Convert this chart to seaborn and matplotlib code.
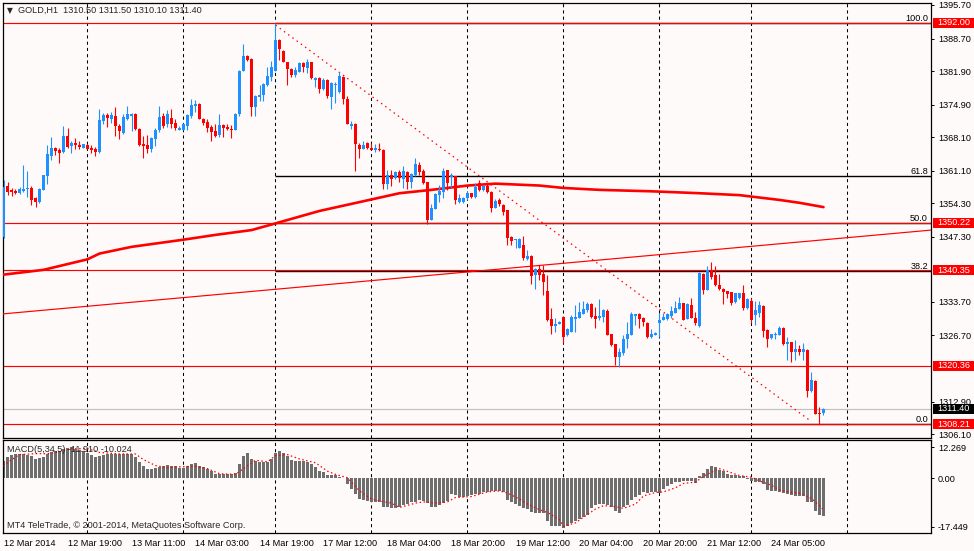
import numpy as np
import pandas as pd
import seaborn as sns
import matplotlib.pyplot as plt
from matplotlib.patches import Rectangle

sns.set_style("white")
plt.rcParams['font.family'] = ['Liberation Sans', 'DejaVu Sans']

BG = "#FFFAFA"
BULL = "#1E90FF"
BEAR = "#FF0000"
RED = "#FF0000"
HIST = "#6E6E6E"
FS = 6.6

# hourly GOLD candles, bar 0 = 12 Mar 2014 03:00
opens = [
    1347.3, 1357.9, 1357.1, 1356.9, 1356.5, 1356.9, 1357.3, 1357.5, 1355.3, 1354.6,
    1357.1, 1359.9, 1364.2, 1365.9, 1365.4, 1365.1, 1368.4, 1366.3, 1366.9, 1366.5,
    1365.9, 1366.5, 1365.9, 1365.6, 1365.1, 1371.5, 1372.7, 1372.0, 1372.5, 1370.5,
    1369.0, 1372.0, 1372.5, 1372.9, 1369.8, 1366.7, 1366.5, 1365.6, 1367.7, 1369.6,
    1372.6, 1370.8, 1372.2, 1371.0, 1369.7, 1369.7, 1370.5, 1372.6, 1374.6, 1375.0,
    1372.0, 1371.3, 1370.2, 1369.3, 1368.6, 1370.6, 1370.3, 1369.9, 1369.6, 1372.9,
    1382.0, 1385.1, 1384.5, 1374.3, 1376.5, 1376.9, 1379.0, 1380.7, 1382.0, 1388.4,
    1386.1, 1383.9, 1382.4, 1381.1, 1381.8, 1383.5, 1382.6, 1383.7, 1380.1, 1380.4,
    1378.1, 1380.0, 1376.4, 1378.9, 1377.6, 1380.7, 1376.0, 1370.4, 1370.9, 1366.5,
    1365.6, 1366.9, 1365.9, 1365.4, 1365.6, 1365.4, 1358.3, 1360.3, 1359.5, 1360.9,
    1359.4, 1360.9, 1358.7, 1360.1, 1362.3, 1361.0, 1358.8, 1350.8, 1353.1, 1356.0,
    1356.7, 1361.2, 1359.7, 1359.9, 1354.5, 1354.5, 1355.3, 1356.4, 1355.7, 1358.5,
    1357.1, 1358.0, 1356.7, 1353.4, 1355.0, 1354.0, 1352.9, 1347.3, 1346.6, 1345.0,
    1345.6, 1342.7, 1343.2, 1339.3, 1340.6, 1339.5, 1336.0, 1330.1, 1328.7, 1329.1,
    1330.5, 1326.7, 1327.5, 1330.1, 1330.4, 1331.2, 1332.0, 1333.2, 1330.8, 1330.4,
    1330.5, 1331.9, 1327.0, 1324.9, 1322.3, 1323.0, 1325.9, 1326.8, 1330.8, 1331.1,
    1330.4, 1329.4, 1326.4, 1326.8, 1329.4, 1329.9, 1330.1, 1330.8, 1331.3, 1332.2,
    1333.4, 1330.1, 1333.1, 1330.4, 1328.7, 1339.5, 1336.2, 1340.4, 1339.3, 1337.2,
    1336.4, 1336.0, 1335.7, 1333.6, 1334.6, 1335.5, 1332.4, 1333.8, 1331.0, 1331.3,
    1332.9, 1327.8, 1326.1, 1326.7, 1326.8, 1328.2, 1324.9, 1325.3, 1323.2, 1323.9,
    1323.3, 1323.7, 1315.0, 1317.2, 1310.6, 1310.5]
highs = [
    1359.2, 1358.7, 1357.4, 1357.3, 1357.6, 1362.3, 1361.0, 1357.9, 1355.7, 1357.4,
    1360.2, 1366.5, 1368.2, 1366.1, 1365.8, 1370.4, 1370.1, 1367.2, 1368.0, 1367.2,
    1366.7, 1366.6, 1366.5, 1366.1, 1374.0, 1373.2, 1373.1, 1373.3, 1374.3, 1370.8,
    1372.9, 1374.6, 1373.2, 1373.1, 1370.1, 1368.4, 1368.6, 1368.2, 1370.0, 1374.6,
    1373.1, 1373.7, 1374.0, 1372.0, 1370.5, 1371.1, 1373.0, 1376.1, 1375.9, 1375.2,
    1372.2, 1371.8, 1370.6, 1370.9, 1372.9, 1370.8, 1370.8, 1370.6, 1373.1, 1382.1,
    1387.6, 1385.3, 1384.7, 1376.9, 1379.0, 1379.5, 1382.8, 1384.1, 1392.0, 1388.6,
    1386.3, 1383.9, 1382.6, 1382.8, 1383.7, 1383.9, 1384.4, 1383.9, 1380.7, 1380.6,
    1380.4, 1380.2, 1379.7, 1379.7, 1381.8, 1380.9, 1376.7, 1371.5, 1371.0, 1366.8,
    1367.4, 1367.1, 1366.9, 1366.7, 1366.8, 1365.6, 1361.3, 1361.3, 1361.1, 1361.3,
    1362.1, 1361.1, 1360.7, 1363.7, 1363.0, 1361.5, 1358.8, 1354.1, 1356.4, 1358.1,
    1361.6, 1361.2, 1360.6, 1360.0, 1356.2, 1355.6, 1356.8, 1356.4, 1358.5, 1359.2,
    1358.1, 1358.3, 1356.9, 1355.1, 1355.3, 1354.1, 1353.0, 1347.4, 1346.8, 1347.0,
    1347.5, 1344.5, 1343.5, 1340.7, 1341.5, 1341.4, 1339.3, 1332.4, 1330.4, 1329.8,
    1330.6, 1328.3, 1331.0, 1333.1, 1333.6, 1333.8, 1333.6, 1333.4, 1332.7, 1334.3,
    1332.3, 1332.2, 1327.1, 1325.0, 1324.0, 1326.8, 1329.6, 1331.7, 1331.2, 1331.3,
    1330.6, 1329.6, 1328.0, 1327.4, 1331.3, 1331.3, 1331.3, 1332.9, 1333.8, 1334.8,
    1333.5, 1333.4, 1334.5, 1331.5, 1339.9, 1339.7, 1341.1, 1342.0, 1341.1, 1339.5,
    1336.7, 1336.0, 1335.8, 1335.6, 1335.6, 1337.2, 1334.6, 1334.5, 1333.8, 1333.8,
    1333.1, 1328.0, 1327.1, 1327.5, 1328.7, 1328.5, 1326.4, 1325.4, 1325.7, 1324.7,
    1325.1, 1323.9, 1319.1, 1317.4, 1311.8, 1311.5]
lows = [
    1347.0, 1356.0, 1355.9, 1356.2, 1356.2, 1356.7, 1355.7, 1354.0, 1353.6, 1354.3,
    1357.0, 1358.3, 1363.3, 1364.4, 1362.8, 1364.7, 1365.8, 1364.9, 1365.6, 1365.6,
    1365.8, 1365.6, 1364.7, 1364.2, 1364.7, 1370.9, 1370.3, 1371.0, 1368.4, 1367.7,
    1368.8, 1371.7, 1369.3, 1369.6, 1366.3, 1363.8, 1364.7, 1365.1, 1366.3, 1369.1,
    1370.0, 1370.3, 1370.1, 1369.7, 1369.5, 1369.6, 1369.6, 1372.2, 1373.4, 1371.8,
    1370.6, 1369.1, 1367.4, 1368.1, 1368.1, 1368.1, 1369.6, 1367.9, 1369.6, 1372.6,
    1382.0, 1384.1, 1372.5, 1372.5, 1375.7, 1375.7, 1378.8, 1379.9, 1382.0, 1384.2,
    1383.9, 1379.0, 1380.7, 1380.6, 1381.8, 1381.8, 1381.6, 1380.2, 1378.6, 1377.4,
    1377.9, 1376.2, 1374.0, 1375.2, 1377.3, 1375.0, 1370.9, 1369.8, 1361.1, 1363.8,
    1365.6, 1365.6, 1365.4, 1365.1, 1365.3, 1357.2, 1357.3, 1358.0, 1359.3, 1358.7,
    1357.4, 1357.3, 1357.4, 1359.9, 1360.2, 1358.3, 1349.9, 1350.8, 1353.1, 1354.6,
    1355.3, 1357.1, 1357.4, 1354.1, 1354.3, 1354.3, 1355.0, 1355.5, 1355.5, 1356.9,
    1356.9, 1356.4, 1352.5, 1353.3, 1353.7, 1351.9, 1345.6, 1345.6, 1344.9, 1344.9,
    1342.5, 1342.5, 1337.4, 1336.5, 1338.3, 1335.2, 1329.7, 1327.1, 1327.5, 1329.0,
    1325.1, 1326.5, 1327.5, 1327.5, 1330.3, 1331.1, 1331.7, 1330.3, 1328.3, 1329.9,
    1329.6, 1326.7, 1324.4, 1320.5, 1320.2, 1322.6, 1324.0, 1326.7, 1328.9, 1328.2,
    1328.7, 1326.1, 1326.2, 1326.7, 1326.4, 1329.9, 1329.9, 1330.3, 1331.3, 1332.2,
    1329.9, 1330.1, 1330.3, 1328.9, 1328.5, 1335.3, 1336.1, 1338.5, 1337.1, 1336.2,
    1333.2, 1334.5, 1333.1, 1333.4, 1334.4, 1332.0, 1332.2, 1329.2, 1328.9, 1330.6,
    1326.4, 1324.2, 1326.0, 1326.0, 1326.7, 1324.7, 1321.6, 1321.1, 1321.6, 1322.6,
    1321.6, 1313.9, 1314.8, 1310.3, 1308.21, 1310.1]
closes = [
    1357.8, 1356.7, 1356.7, 1356.5, 1357.3, 1357.3, 1357.5, 1355.0, 1354.6, 1357.3,
    1360.1, 1364.6, 1365.9, 1365.3, 1364.9, 1368.4, 1366.1, 1366.9, 1366.5, 1366.1,
    1366.6, 1365.7, 1365.5, 1365.1, 1371.7, 1372.7, 1372.2, 1372.7, 1370.5, 1369.3,
    1372.3, 1372.9, 1372.9, 1369.8, 1366.5, 1366.3, 1365.6, 1368.0, 1369.7, 1372.4,
    1370.4, 1372.9, 1370.9, 1370.0, 1370.1, 1370.8, 1372.7, 1374.8, 1375.0, 1372.0,
    1371.1, 1370.1, 1369.1, 1368.4, 1370.6, 1370.0, 1369.9, 1369.6, 1372.9, 1382.0,
    1385.1, 1384.2, 1374.3, 1376.8, 1376.9, 1379.2, 1380.8, 1382.7, 1388.4, 1386.5,
    1383.9, 1382.3, 1381.1, 1382.1, 1383.5, 1382.8, 1383.7, 1380.4, 1380.5, 1378.1,
    1380.0, 1376.8, 1379.5, 1379.3, 1380.9, 1376.0, 1370.9, 1370.9, 1366.6, 1365.6,
    1366.5, 1365.9, 1365.4, 1365.8, 1365.4, 1358.3, 1360.2, 1359.4, 1360.9, 1359.5,
    1361.0, 1358.8, 1360.4, 1362.6, 1360.9, 1358.5, 1350.8, 1353.4, 1356.2, 1356.9,
    1361.0, 1358.5, 1360.3, 1355.0, 1355.3, 1355.3, 1356.4, 1355.7, 1357.8, 1357.1,
    1358.0, 1356.6, 1353.4, 1354.8, 1354.2, 1352.5, 1347.1, 1346.4, 1346.8, 1346.8,
    1342.8, 1343.2, 1339.2, 1340.5, 1339.3, 1337.9, 1329.9, 1328.7, 1329.1, 1329.5,
    1326.4, 1328.0, 1330.6, 1330.6, 1331.5, 1332.2, 1333.2, 1330.6, 1330.1, 1330.8,
    1332.1, 1326.8, 1324.7, 1322.3, 1323.2, 1325.9, 1327.1, 1331.1, 1331.1, 1330.1,
    1329.6, 1326.4, 1327.1, 1327.3, 1329.9, 1330.6, 1331.1, 1331.8, 1332.5, 1333.4,
    1329.9, 1333.2, 1330.4, 1329.2, 1339.7, 1336.2, 1340.4, 1339.0, 1337.2, 1336.4,
    1335.7, 1335.3, 1333.4, 1335.5, 1335.5, 1332.4, 1334.3, 1329.9, 1332.0, 1333.1,
    1327.6, 1326.0, 1327.0, 1327.1, 1328.2, 1324.9, 1325.3, 1323.3, 1323.9, 1323.2,
    1323.9, 1315.0, 1317.4, 1310.4, 1310.2, 1311.4]

macd_hist = [
    5.7, 6.9, 7.6, 7.9, 7.9, 7.9, 7.6, 7.0, 6.3, 6.5,
    6.9, 7.9, 8.3, 8.6, 8.6, 9.4, 9.7, 10.0, 9.5, 9.1,
    8.6, 8.1, 7.6, 6.8, 7.3, 7.6, 7.9, 7.8, 7.8, 7.8,
    7.8, 7.8, 7.8, 6.8, 5.2, 3.9, 3.0, 3.0, 3.4, 3.6,
    3.9, 4.4, 4.1, 3.9, 3.4, 3.4, 4.1, 4.6, 4.8, 4.1,
    3.6, 3.0, 2.3, 1.5, 1.5, 1.3, 1.3, 1.3, 1.8, 4.6,
    7.0, 8.1, 6.2, 5.4, 5.3, 5.2, 5.2, 6.2, 8.1, 8.6,
    8.1, 7.3, 6.0, 5.7, 5.4, 5.4, 5.2, 4.6, 3.7, 2.3,
    2.1, 1.1, 1.1, 1.1, 0.4, 0.1, -1.9, -3.3, -5.0, -6.5,
    -6.9, -7.2, -7.5, -7.5, -7.7, -9.0, -9.3, -9.6, -9.5, -9.1,
    -8.5, -8.2, -7.7, -7.5, -6.9, -7.2, -7.9, -9.3, -9.0, -8.5,
    -7.9, -7.2, -5.0, -5.4, -5.9, -5.9, -5.6, -5.3, -5.0, -4.9,
    -4.5, -4.4, -4.0, -4.0, -4.1, -4.4, -6.9, -7.5, -8.2, -8.7,
    -9.6, -9.8, -10.8, -11.1, -11.1, -11.1, -13.5, -15.1, -15.3, -15.3,
    -15.8, -15.1, -14.2, -13.5, -13.0, -12.2, -11.6, -9.6, -8.5, -8.2,
    -8.2, -8.5, -9.0, -10.3, -10.9, -9.3, -8.5, -7.0, -6.1, -5.3,
    -4.5, -4.8, -4.5, -4.5, -4.8, -3.5, -2.4, -1.9, -1.3, -1.1,
    -0.8, -0.8, -0.8, -1.6, 0.8, 1.6, 3.0, 3.9, 3.7, 2.8,
    2.3, 1.5, 1.1, 1.1, 0.9, 0.8, -0.1, -0.8, -1.3, -1.3,
    -1.9, -3.7, -4.0, -4.0, -4.4, -4.8, -4.9, -5.3, -5.6, -5.6,
    -5.6, -7.7, -7.7, -10.3, -11.7, -11.9]

signal_bars = [0, 1, 3, 4, 8, 11, 14, 17, 21, 24, 29, 33, 35, 38, 41, 44, 48, 51, 54, 58,
               60, 63, 66, 68, 71, 74, 78, 81, 83, 86, 89, 92, 94, 97, 99, 103, 105, 108,
               111, 113, 117, 121, 124, 126, 129, 131, 134, 136, 139, 140, 143, 145, 148,
               150, 153, 155, 158, 160, 163, 165, 168, 170, 173, 175, 178, 179, 182, 184,
               187, 189, 192, 194, 197, 199, 202, 204, 205]
signal_vals = [3.9, 5.0, 6.8, 7.6, 7.9, 7.9, 8.5, 9.5, 9.5, 8.3, 7.8, 7.8, 6.0, 4.1, 3.4,
               3.7, 3.9, 3.1, 1.5, 1.3, 3.1, 5.8, 5.3, 7.3, 7.6, 6.2, 5.0, 2.3, 1.3, 0.2,
               -4.0, -6.6, -7.2, -7.9, -9.3, -7.9, -7.5, -7.9, -7.5, -6.1, -5.8, -4.3,
               -4.0, -4.7, -6.6, -8.2, -10.0, -10.9, -13.2, -15.3, -14.2, -12.4, -9.8,
               -8.7, -9.0, -9.6, -8.2, -5.6, -4.5, -4.3, -3.0, -1.6, -1.2, 0.7, 2.6, 3.1,
               1.8, 0.9, 0.4, -0.8, -2.2, -3.7, -4.5, -4.7, -6.4, -8.7, -10.0]

# thick moving average
ma_bars = [0, 10, 21, 24, 32, 45, 53, 62, 68, 79, 92, 99, 107, 116, 123, 134, 140, 149,
           162, 174, 184, 194, 199, 205]
ma_vals = [1339.4, 1340.4, 1342.6, 1343.8, 1345.2, 1346.7, 1347.7, 1348.7, 1350.1,
           1352.7, 1355.1, 1356.4, 1357.1, 1358.0, 1358.4, 1358.0, 1357.5, 1357.1,
           1356.8, 1356.4, 1356.0, 1355.0, 1354.4, 1353.5]

trend_bars = [-0.2, 231.9]
trend_vals = [1331.2, 1348.7]
fall_bars = [68, 202]
fall_vals = [1391.5, 1308.7]

levels = [1392.00, 1350.22, 1340.35, 1320.36, 1308.21]
fib_names = ["100.0", "61.8", "50.0", "38.2", "0.0"]
fib_prices = [1392.00, 1359.99, 1350.11, 1340.22, 1308.21]
fib_start = 68
last_price = 1311.40

price_ticks = [1395.70, 1388.70, 1381.90, 1374.90, 1368.10, 1361.10, 1354.30, 1347.30,
               1333.70, 1326.70, 1312.90, 1306.10]
grid_bars = [21, 45, 68, 92, 116, 140, 164, 187, 211]
time_bars = [0, 16, 32, 48, 64, 80, 96, 112, 128, 144, 160, 176, 192]
time_labels = ["12 Mar 2014", "12 Mar 19:00", "13 Mar 11:00", "14 Mar 03:00",
               "14 Mar 19:00", "17 Mar 12:00", "18 Mar 04:00", "18 Mar 20:00",
               "19 Mar 12:00", "20 Mar 04:00", "20 Mar 20:00", "21 Mar 12:00",
               "24 Mar 05:00"]

W, H = 974, 551


def rect(l, t, r, b):
    return [l / W, 1 - b / H, (r - l) / W, (b - t) / H]


fig = plt.figure(figsize=(W / 100, H / 100), dpi=100, facecolor=BG)
ax = fig.add_axes(rect(2.7, 2.7, 931, 438), facecolor=BG)
ax2 = fig.add_axes(rect(2.7, 440, 931, 533), facecolor=BG)

df = pd.DataFrame({'bar': np.arange(len(closes)), 'open': opens, 'high': highs,
                   'low': lows, 'close': closes})
cols = np.where(df['close'] >= df['open'], BULL, BEAR)

# grid and lines behind candles
for g in grid_bars:
    for a in (ax, ax2):
        a.axvline(g, color='black', lw=0.75, ls=(0, (3, 3)), zorder=1)

for fp in fib_prices:
    ax.hlines(fp, fib_start, 232, color='black', lw=1.0, zorder=2)
for lv in levels:
    ax.axhline(lv, color=RED, lw=0.85, zorder=2.5)
ax.axhline(last_price, color='#C0C0C0', lw=0.85, zorder=1.5)

sns.lineplot(x=ma_bars, y=ma_vals, ax=ax, color=RED, lw=1.9, zorder=3)
sns.lineplot(x=trend_bars, y=trend_vals, ax=ax, color=RED, lw=0.85, zorder=3)
sns.lineplot(x=fall_bars, y=fall_vals, ax=ax, color=RED, lw=0.9,
             linestyle=(0, (1.2, 3.0)), zorder=3)

# candles
ax.vlines(df['bar'], df['low'], df['high'], colors=cols, lw=0.8, zorder=4)
body_low = df[['open', 'close']].min(axis=1)
body_h = (df['close'] - df['open']).abs().clip(lower=0.2)
ax.bar(df['bar'], body_h, bottom=body_low, width=0.75, color=cols, linewidth=0, zorder=5)

ax.set_xlim(-0.2, 231.875)
ax.set_ylim(1305.29, 1396.18)
ax.set_xlabel('')
ax.set_ylabel('')
ax.set_xticks([])
ax.yaxis.tick_right()
ax.set_yticks(price_ticks)
ax.set_yticklabels([f"{v:.2f}" for v in price_ticks])
ax.tick_params(axis='y', direction='out', length=2.5, width=0.7, pad=2.5,
               labelsize=FS, colors='black')

ytr = ax.get_yaxis_transform()
for name, fp in zip(fib_names, fib_prices):
    ax.text(0.9968, fp, name, transform=ytr, ha='right', va='bottom',
            fontsize=FS, color='black', zorder=6)

box_h = 2.1
for lv, fc in zip(levels + [last_price], [RED] * len(levels) + ['black']):
    ax.add_patch(Rectangle((1.0022, lv - box_h / 2), 0.05, box_h, transform=ytr,
                           facecolor=fc, edgecolor='none', clip_on=False, zorder=10))
    ax.text(1.0072, lv, f"{lv:.2f}", transform=ytr, color='white', ha='left',
            va='center', fontsize=FS, clip_on=False, zorder=11)

# MACD panel
sns.barplot(x=np.arange(len(macd_hist)), y=macd_hist, ax=ax2, native_scale=True,
            width=0.75, color=HIST, saturation=1, linewidth=0, errorbar=None, zorder=2)
sns.lineplot(x=signal_bars, y=signal_vals, ax=ax2, color=RED, lw=0.9,
             linestyle=(0, (1.2, 2.0)), zorder=3)
ax2.set_xlim(-0.2, 231.875)
ax2.set_ylim(-17.449, 12.269)
ax2.set_xlabel('')
ax2.set_ylabel('')
ax2.yaxis.tick_right()
ax2.set_yticks([10.0, 0.0, -15.5])
ax2.set_yticklabels(["12.269", "0.00", "-17.449"])
ax2.tick_params(axis='y', direction='out', length=2.5, width=0.7, pad=2.5,
                labelsize=FS, colors='black')
ax2.set_xticks(time_bars)
ax2.set_xticklabels(time_labels, ha='left')
ax2.tick_params(axis='x', direction='out', length=3, width=0.7, pad=1.5,
                labelsize=FS, colors='black')

for a in (ax, ax2):
    for s in a.spines.values():
        s.set_color('black')
        s.set_linewidth(0.9)

fig.text(6.5 / W, 1 - 10.5 / H, "\u25bc", fontsize=5.5, va='center', ha='left',
         family=['DejaVu Sans'])
fig.text(18 / W, 1 - 10.5 / H, "GOLD,H1  1310.50 1311.50 1310.10 1311.40",
         fontsize=FS, va='center', ha='left')
fig.text(7 / W, 1 - 449.5 / H, "MACD(5,34,5) -11.910 -10.024",
         fontsize=FS, va='center', ha='left')
fig.text(7 / W, 1 - 526 / H, "MT4 TeleTrade, \u00a9 2001-2014, MetaQuotes Software Corp.",
         fontsize=FS, va='center', ha='left')

fig.savefig("out.png", dpi=100, facecolor=BG)
